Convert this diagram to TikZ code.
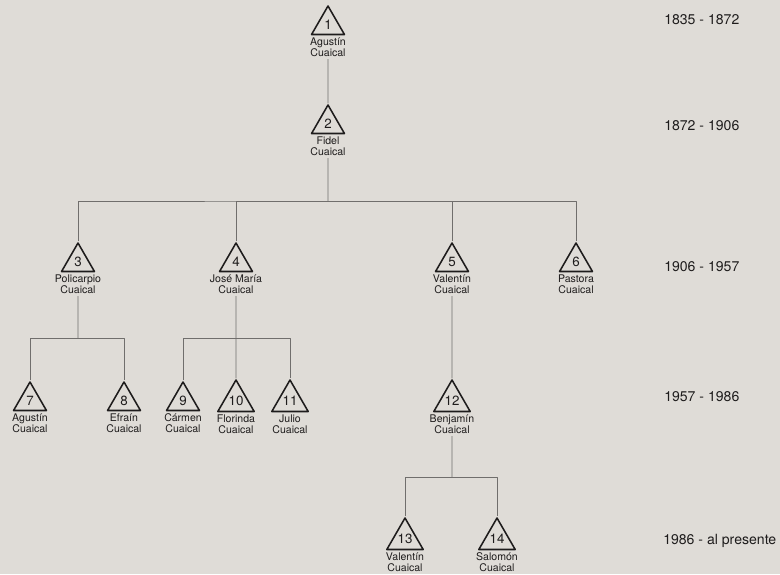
\documentclass[tikz,border=0pt]{standalone}
\usepackage{fontspec}
\setmainfont{TeX Gyre Heros}
\usetikzlibrary{shapes.geometric}
\definecolor{paper}{RGB}{223,220,215}
\definecolor{ink}{RGB}{30,28,28}
\definecolor{wire}{RGB}{112,110,108}

\begin{document}
\begin{tikzpicture}[x=0.025cm,y=-0.025cm,line join=round,
  person/.style={regular polygon,regular polygon sides=3,draw=ink,line width=1.1pt,minimum size=0.95cm,inner sep=0pt,text=ink,font=\fontsize{9.5}{9.5}\selectfont},
  who/.style={anchor=north,align=center,inner sep=1.8pt,text=ink,font=\fontsize{7.5}{7.4}\selectfont},
  link/.style={draw=wire,line width=0.6pt},
  era/.style={anchor=west,inner sep=0pt,text=ink,font=\fontsize{10}{10}\selectfont}]
% paper
\fill[paper] (0,0) rectangle (780,574);
\useasboundingbox (0,0) rectangle (780,574);
% generation 1 and 2
\node[person] (p1) at (328,25) {1}; \node[who] (n1) at (p1.south) {Agustín\\Cuaical};
\node[person] (p2) at (328,124) {2}; \node[who] (n2) at (p2.south) {Fidel\\Cuaical};
% generation 3
\node[person] (p3) at (78,262) {3}; \node[who] (n3) at (p3.south) {Policarpio\\Cuaical};
\node[person] (p4) at (236,262) {4}; \node[who] (n4) at (p4.south) {José María\\Cuaical};
\node[person] (p5) at (452,262) {5}; \node[who] (n5) at (p5.south) {Valentín\\Cuaical};
\node[person] (p6) at (576,262) {6}; \node[who] (n6) at (p6.south) {Pastora\\Cuaical};
% generation 4
\node[person] (p7) at (30,401) {7}; \node[who] (n7) at (p7.south) {Agustín\\Cuaical};
\node[person] (p8) at (124,401) {8}; \node[who] (n8) at (p8.south) {Efraín\\Cuaical};
\node[person] (p9) at (183,401) {9}; \node[who] (n9) at (p9.south) {Cármen\\Cuaical};
\node[person] (p10) at (236,401) {10}; \node[who] (n10) at (p10.south) {Florinda\\Cuaical};
\node[person] (p11) at (290,401) {11}; \node[who] (n11) at (p11.south) {Julio\\Cuaical};
\node[person] (p12) at (452,401) {12}; \node[who] (n12) at (p12.south) {Benjamín\\Cuaical};
% generation 5
\node[person] (p13) at (405,539) {13}; \node[who] (n13) at (p13.south) {Valentín\\Cuaical};
\node[person] (p14) at (497,539) {14}; \node[who] (n14) at (p14.south) {Salomón\\Cuaical};
% descent lines
\coordinate (b2) at (328,201);
\coordinate (b3) at (78,338);
\coordinate (b4) at (236,338);
\coordinate (b12) at (452,477);
\draw[link] (n1.south) -- (p2.north);
\draw[link] (n2.south) -- (b2);
\draw[link] (p3.north) |- (b2) -| (p6.north);
\draw[link] (p4.north) |- (b2); \draw[link] (p5.north) |- (b2);
\draw[link] (n3.south) -- (b3);
\draw[link] (p7.north) |- (b3) -| (p8.north);
\draw[link] (n4.south) -- (p10.north);
\draw[link] (p9.north) |- (b4) -| (p11.north);
\draw[link] (n5.south) -- (p12.north);
\draw[link] (n12.south) -- (b12);
\draw[link] (p13.north) |- (b12) -| (p14.north);
% periods
\node[era] (e1) at (664,20) {1835 - 1872};
\node[era] (e2) at (664,126) {1872 - 1906};
\node[era] (e3) at (664,267) {1906 - 1957};
\node[era] (e4) at (664,397) {1957 - 1986};
\node[era] (e5) at (663,541) {1986 - al presente};
\end{tikzpicture}
\end{document}
